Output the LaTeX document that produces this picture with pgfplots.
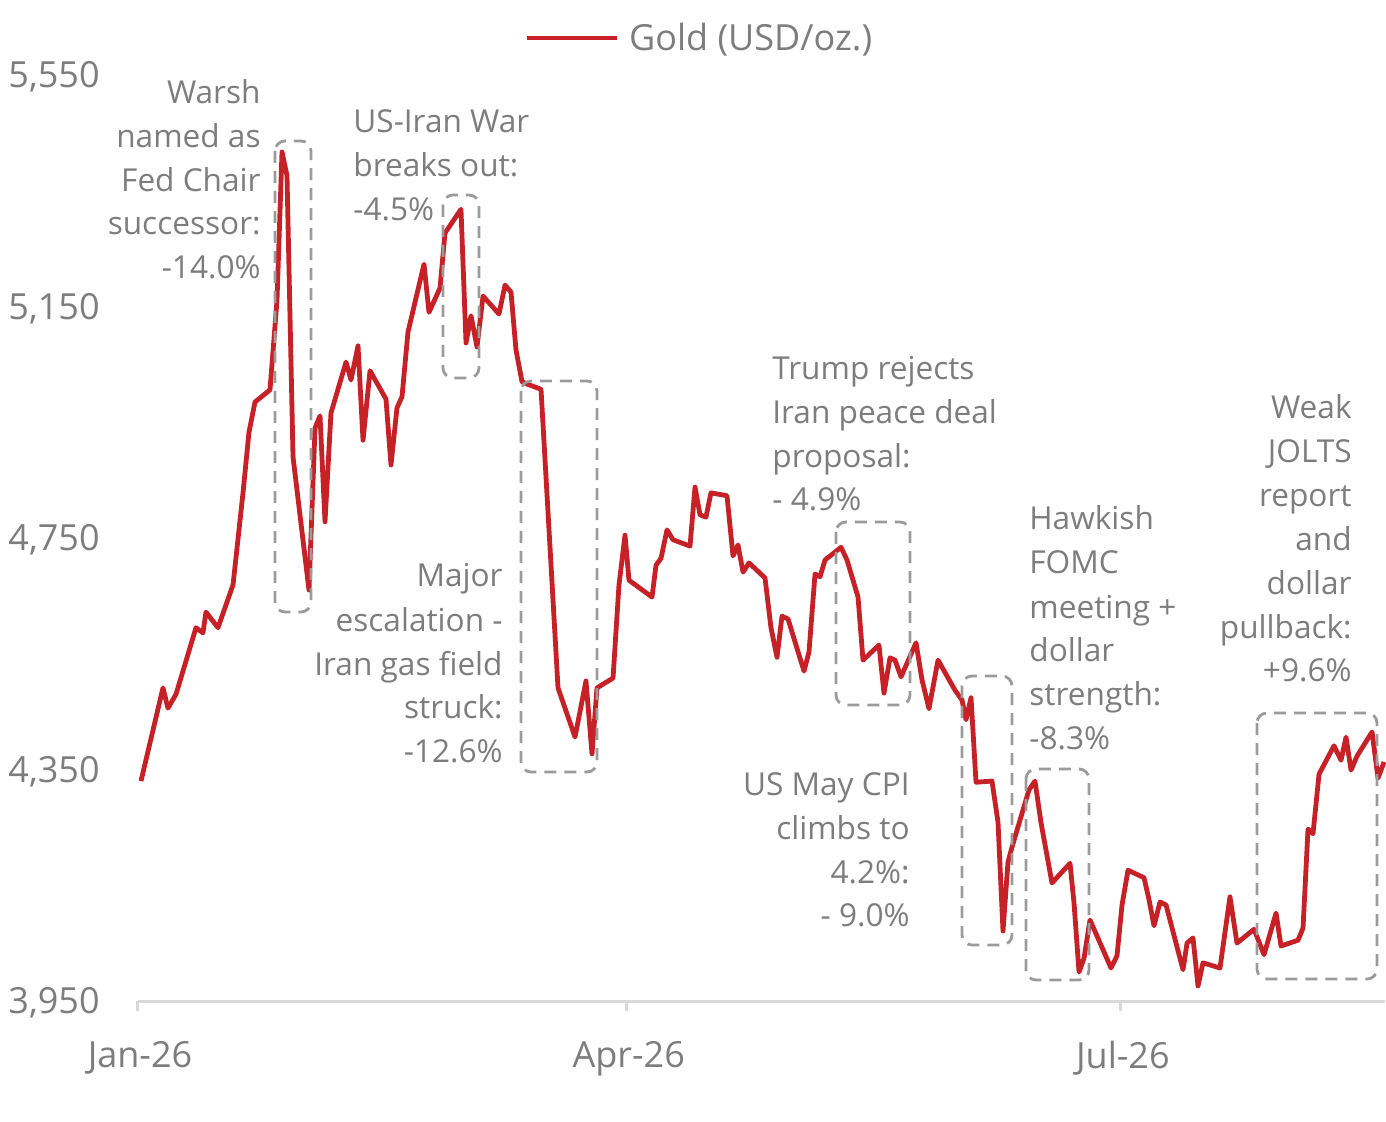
\documentclass[border=0pt]{standalone}
\usepackage{fontspec}
\setmainfont{Open Sans}
\usepackage{pgfplots}
\pgfplotsset{compat=1.18}
\definecolor{goldred}{RGB}{199,33,40}
\definecolor{txtgray}{RGB}{125,125,125}
\definecolor{boxgray}{RGB}{155,155,155}
\definecolor{axgray}{RGB}{217,217,217}
\begin{document}
\begin{tikzpicture}
\path[use as bounding box] (0pt,0pt) rectangle (693pt,-561pt);
\begin{axis}[
  at={(69pt,-500.5pt)}, anchor=south west,
  scale only axis, width=623.5pt, height=463pt,
  xmin=0, xmax=229.65, ymin=3950, ymax=5550,
  axis x line*=bottom, axis y line*=left,
  x axis line style={draw=axgray, line width=1.5pt, -},
  y axis line style={draw=none},
  xtick={0,90,181}, xticklabels={Jan-26,Apr-26,Jul-26},
  ytick={3950,4350,4750,5150,5550},
  tick align=outside, major tick length=5pt,
  xtick style={draw=axgray, line width=1.5pt},
  ytick style={draw=none},
  yticklabel={\pgfmathprintnumber[1000 sep={,}]{\tick}},
  /pgf/number format/assume math mode=true,
  ticklabel style={font=\fontsize{18}{20}\selectfont, text=txtgray},
  yticklabel style={inner sep=0pt, xshift=-14pt, yshift=-1pt},
  xticklabel style={inner sep=0pt, yshift=-15pt, xshift=1pt},
  clip=false,
  legend style={draw=none, fill=none, at={(0.3095,1.040)}, anchor=west, inner sep=0pt,
    font=\fontsize{18}{20}\selectfont, text=txtgray, nodes={inner sep=0pt}},
  legend image code/.code={\draw[#1] (0pt,0pt) -- (45pt,0pt); \path (50pt,0pt);},
]
\addplot[goldred, line width=2.4pt, line join=round] coordinates {
(0.55,4330) (4.60,4491) (5.52,4456) (7.00,4480) (10.68,4595) (11.97,4586) (12.52,4622) (14.73,4595)
(17.50,4669) (19.34,4828) (20.44,4933) (21.55,4985) (24.31,5006) (25.60,5161) (26.52,5417) (27.44,5376)
(28.55,4890) (31.49,4660) (32.60,4940) (33.52,4961) (34.44,4778) (35.54,4966) (38.31,5054) (39.23,5023)
(40.52,5082) (41.44,4919) (42.73,5039) (45.67,4990) (46.59,4876) (47.70,4975) (48.62,4994) (49.72,5106)
(52.67,5223) (53.59,5140) (55.62,5182) (56.54,5277) (59.48,5318) (60.41,5087) (61.33,5134) (62.43,5080)
(63.54,5168) (66.48,5137) (67.59,5187) (68.69,5175) (69.61,5075) (70.72,5020) (71.64,5016) (74.22,5007)
(77.35,4491) (80.48,4406) (82.50,4503) (83.61,4377) (84.53,4491) (87.48,4508) (88.58,4669) (89.69,4755)
(90.42,4677) (94.66,4648) (95.40,4703) (96.32,4715) (97.42,4764) (98.53,4747) (101.66,4736) (102.58,4838)
(103.50,4790) (104.60,4786) (105.52,4828) (108.47,4823) (109.58,4719) (110.50,4738) (111.42,4691) (112.52,4707)
(115.47,4681) (116.57,4595) (117.68,4544) (118.60,4615) (119.71,4610) (122.65,4520) (123.57,4553) (124.68,4688)
(125.60,4683) (126.52,4712) (129.47,4734) (130.57,4712) (131.49,4683) (132.60,4648) (133.52,4539) (136.46,4565)
(137.38,4482) (138.49,4543) (139.41,4539) (140.52,4510) (143.28,4569) (144.38,4505) (145.67,4455) (147.33,4539)
(150.46,4487) (151.75,4470) (152.49,4436) (153.41,4474) (154.33,4328) (157.27,4330) (158.38,4259) (159.30,4071)
(160.22,4190) (160.96,4216) (164.09,4315) (165.19,4330) (166.30,4258) (168.32,4154) (171.64,4188) (172.38,4119)
(173.30,4000) (174.22,4024) (175.32,4090) (179.19,4007) (180.29,4028) (181.22,4116) (182.32,4176) (185.27,4163)
(186.19,4125) (187.11,4080) (188.21,4121) (189.32,4116) (192.45,4004) (193.19,4050) (194.29,4059) (195.21,3976)
(196.13,4016) (199.26,4007) (201.10,4130) (202.39,4050) (205.52,4074) (207.37,4030) (209.58,4102) (210.50,4045)
(213.63,4055) (214.55,4076) (215.47,4247) (216.39,4239) (217.50,4342) (220.26,4391) (221.55,4366) (222.47,4406)
(223.39,4349) (224.49,4373) (227.26,4415) (228.36,4335) (229.47,4363)
};
\addlegendentry{Gold (USD/oz.)}
\end{axis}
\begin{scope}[x=0.5pt,y=-0.5pt]
\tikzset{box/.style={draw=boxgray, line width=1.4pt, dash pattern=on 6pt off 4pt, rounded corners=5pt},
  ann/.style={font=\fontsize{15.8}{22}\selectfont, text=txtgray, inner sep=0pt}}
\draw[box] (275,141) rectangle (311,612);
\draw[box] (443,195) rectangle (479,378);
\draw[box] (521,381) rectangle (597,772);
\draw[box] (836,522) rectangle (910,705);
\draw[box] (962,676) rectangle (1012,945);
\draw[box] (1026,769) rectangle (1089,980);
\draw[box] (1257,713) rectangle (1377,979);
% A
\node[ann, anchor=base east] at (261,104) {Warsh};
\node[ann, anchor=base east] at (261,148) {named as};
\node[ann, anchor=base east] at (261,192) {Fed Chair};
\node[ann, anchor=base east] at (261,235) {successor:};
\node[ann, anchor=base east] at (261,279) {-14.0\%};
% B
\node[ann, anchor=base west] at (353,133) {US-Iran War};
\node[ann, anchor=base west] at (353,177) {breaks out:};
\node[ann, anchor=base west] at (353,221) {-4.5\%};
% C
\node[ann, anchor=base east] at (503,587) {Major};
\node[ann, anchor=base east] at (503,631) {escalation -};
\node[ann, anchor=base east] at (503,675) {Iran gas field};
\node[ann, anchor=base east] at (503,718) {struck:};
\node[ann, anchor=base east] at (503,762) {-12.6\%};
% D
\node[ann, anchor=base west] at (772,380) {Trump rejects};
\node[ann, anchor=base west] at (772,424) {Iran peace deal};
\node[ann, anchor=base west] at (772,468) {proposal:};
\node[ann, anchor=base west] at (772,511) {- 4.9\%};
% E
\node[ann, anchor=base east] at (910,795) {US May CPI};
\node[ann, anchor=base east] at (910,839) {climbs to};
\node[ann, anchor=base east] at (910,883) {4.2\%:};
\node[ann, anchor=base east] at (910,926) {- 9.0\%};
% F
\node[ann, anchor=base west] at (1029,530) {Hawkish};
\node[ann, anchor=base west] at (1029,574) {FOMC};
\node[ann, anchor=base west] at (1029,618) {meeting +};
\node[ann, anchor=base west] at (1029,661) {dollar};
\node[ann, anchor=base west] at (1029,705) {strength:};
\node[ann, anchor=base west] at (1029,749) {-8.3\%};
% G
\node[ann, anchor=base east] at (1352,419) {Weak};
\node[ann, anchor=base east] at (1352,463) {JOLTS};
\node[ann, anchor=base east] at (1352,507) {report};
\node[ann, anchor=base east] at (1352,551) {and};
\node[ann, anchor=base east] at (1352,594) {dollar};
\node[ann, anchor=base east] at (1352,638) {pullback:};
\node[ann, anchor=base east] at (1352,681) {+9.6\%};
\end{scope}
\end{tikzpicture}
\end{document}
